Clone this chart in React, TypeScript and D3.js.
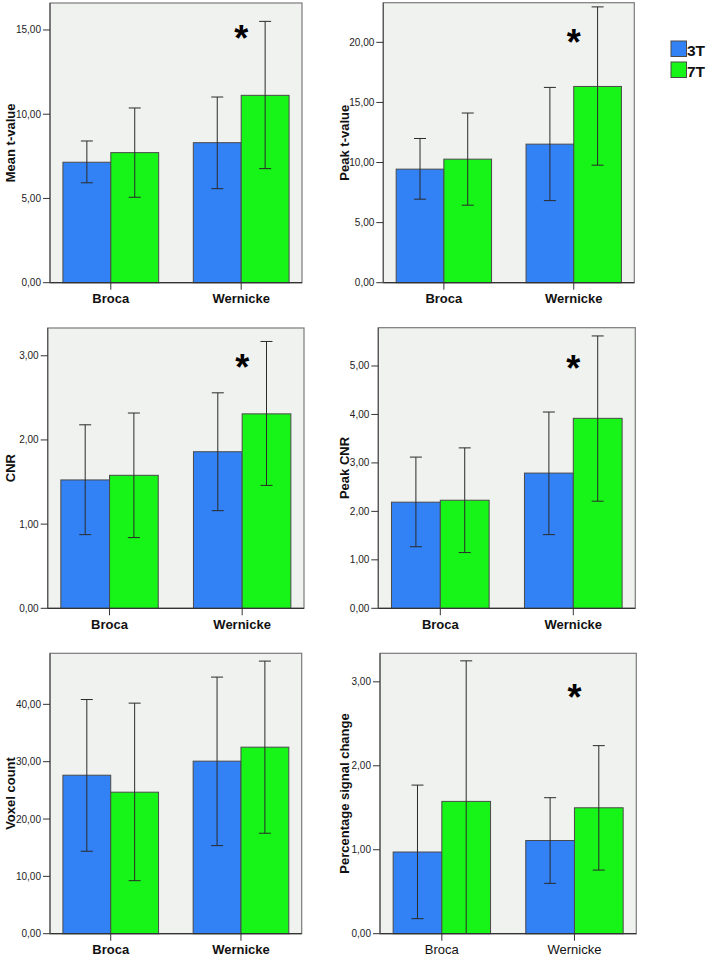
import React from "react";
import * as d3 from "d3";

const categories = ["Broca", "Wernicke"];
const series = ["3T", "7T"];
const seriesColors = ["#3282f6", "#17f417"];

// Mean t-value
const meanT_3T = [7.15, 8.31];
const meanT_7T = [7.72, 11.12];
const meanT_ci3T = [[5.93, 8.41], [5.58, 11.02]];
const meanT_ci7T = [[5.07, 10.37], [6.77, 15.51]];
const meanT_ticks = [0, 5, 10, 15];

// Peak t-value
const peakT_3T = [9.45, 11.53];
const peakT_7T = [10.28, 16.33];
const peakT_ci3T = [[6.95, 12.0], [6.83, 16.25]];
const peakT_ci7T = [[6.45, 14.12], [9.78, 22.95]];
const peakT_ticks = [0, 5, 10, 15, 20];

// CNR
const cnr_3T = [1.525, 1.86];
const cnr_7T = [1.58, 2.31];
const cnr_ci3T = [[0.875, 2.18], [1.16, 2.56]];
const cnr_ci7T = [[0.84, 2.32], [1.46, 3.17]];
const cnr_ticks = [0, 1, 2, 3];

// Peak CNR
const peakCnr_3T = [2.19, 2.79];
const peakCnr_7T = [2.23, 3.92];
const peakCnr_ci3T = [[1.27, 3.12], [1.52, 4.05]];
const peakCnr_ci7T = [[1.15, 3.31], [2.21, 5.62]];
const peakCnr_ticks = [0, 1, 2, 3, 4, 5];

// Voxel count
const voxel_3T = [27.64, 30.09];
const voxel_7T = [24.68, 32.53];
const voxel_ci3T = [[14.38, 40.84], [15.36, 44.75]];
const voxel_ci7T = [[9.25, 40.21], [17.52, 47.54]];
const voxel_ticks = [0, 10, 20, 30, 40];

// Percentage signal change
const psc_3T = [0.973, 1.11];
const psc_7T = [1.576, 1.5];
const psc_ci3T = [[0.179, 1.77], [0.6, 1.62]];
const psc_ci7T = [[-0.1, 3.25], [0.758, 2.24]];
const psc_ticks = [0, 1, 2, 3];

type Panel = {
  label: string;
  v3: number[];
  v7: number[];
  c3: number[][];
  c7: number[][];
  ticks: number[];
  max: number;
  box: [number, number, number, number]; // left, top, right, bottom
  star: boolean;
  starValue?: number;
  boldX: boolean;
  labelX: number;
};

const panels: Panel[] = [
  { label: "Mean t-value", v3: meanT_3T, v7: meanT_7T, c3: meanT_ci3T, c7: meanT_ci7T, ticks: meanT_ticks, max: 16.6, box: [50, 3, 302, 282.7], star: true, starValue: 14.9, boldX: true, labelX: 10 },
  { label: "Peak t-value", v3: peakT_3T, v7: peakT_7T, c3: peakT_ci3T, c7: peakT_ci7T, ticks: peakT_ticks, max: 23.3, box: [383.3, 2.7, 634.3, 282.7], star: true, starValue: 20.6, boldX: true, labelX: 344 },
  { label: "CNR", v3: cnr_3T, v7: cnr_7T, c3: cnr_ci3T, c7: cnr_ci7T, ticks: cnr_ticks, max: 3.33, box: [47.7, 328, 304, 608.3], star: true, starValue: 2.95, boldX: true, labelX: 10 },
  { label: "Peak CNR", v3: peakCnr_3T, v7: peakCnr_7T, c3: peakCnr_ci3T, c7: peakCnr_ci7T, ticks: peakCnr_ticks, max: 5.79, box: [378.3, 327.7, 635.3, 608.3], star: true, starValue: 5.1, boldX: true, labelX: 344 },
  { label: "Voxel count", v3: voxel_3T, v7: voxel_7T, c3: voxel_ci3T, c7: voxel_ci7T, ticks: voxel_ticks, max: 48.9, box: [50, 653.3, 301.7, 933.7], star: false, boldX: true, labelX: 10 },
  { label: "Percentage signal change", v3: psc_3T, v7: psc_7T, c3: psc_ci3T, c7: psc_ci7T, ticks: psc_ticks, max: 3.34, box: [380, 653.3, 636.3, 933.7], star: true, starValue: 2.9, boldX: false, labelX: 344 },
];

const fmt = (v: number) => d3.format(".2f")(v).replace(".", ",");
const FONT = "Liberation Sans, Arial, sans-serif";

function PanelChart({ p, idx }: { p: Panel; idx: number }) {
  const [left, top, right, bottom] = p.box;
  const y = d3.scaleLinear().domain([0, p.max]).range([bottom, top]);
  const x0 = d3.scaleBand<string>().domain(categories).range([left, right]).paddingInner(0.2656).paddingOuter(0.0991);
  const x1 = d3.scaleBand<string>().domain(series).range([0, x0.bandwidth()]).padding(0);
  const clipId = `clip${idx}`;
  const vals = [p.v3, p.v7];
  const cis = [p.c3, p.c7];
  const cap = 6;
  return (
    <g>
      <defs>
        <clipPath id={clipId}>
          <rect x={left} y={top} width={right - left} height={bottom - top} />
        </clipPath>
      </defs>
      <rect x={left} y={top} width={right - left} height={bottom - top} fill="#f0f2f0" stroke="#7a7a7a" strokeWidth={1.2} />
      {categories.map((c, ci) =>
        series.map((s, si) => {
          const bx = (x0(c) as number) + (x1(s) as number);
          const v = vals[si][ci];
          return (
            <rect key={c + s} x={bx} y={y(v)} width={x1.bandwidth()} height={bottom - y(v)} fill={seriesColors[si]} stroke="#4a4a4a" strokeWidth={1} />
          );
        })
      )}
      <g clipPath={`url(#${clipId})`}>
        {categories.map((c, ci) =>
          series.map((s, si) => {
            const cx = (x0(c) as number) + (x1(s) as number) + x1.bandwidth() / 2;
            const [lo, hi] = cis[si][ci];
            return (
              <g key={c + s} stroke="#2a2a2a" strokeWidth={1}>
                <line x1={cx} x2={cx} y1={y(lo)} y2={y(hi)} />
                <line x1={cx - cap} x2={cx + cap} y1={y(hi)} y2={y(hi)} />
                {lo > 0 && <line x1={cx - cap} x2={cx + cap} y1={y(lo)} y2={y(lo)} />}
              </g>
            );
          })
        )}
      </g>
      <line x1={left} x2={right} y1={bottom} y2={bottom} stroke="#333" strokeWidth={1.2} />
      <line x1={left} x2={left} y1={top} y2={bottom} stroke="#555" strokeWidth={1.2} />
      {p.ticks.map((t) => (
        <g key={t}>
          <line x1={left - 7} x2={left} y1={y(t)} y2={y(t)} stroke="#333" strokeWidth={1} />
          <text x={left - 9} y={y(t)} dy="0.35em" textAnchor="end" fontSize={10} fontFamily={FONT} fill="#222">
            {fmt(t)}
          </text>
        </g>
      ))}
      {categories.map((c) => {
        const cx = (x0(c) as number) + x0.bandwidth() / 2;
        return (
          <g key={c}>
            <line x1={cx} x2={cx} y1={bottom} y2={bottom + 7} stroke="#333" strokeWidth={1} />
            <text x={cx} y={bottom + 20.5} textAnchor="middle" fontSize={13} fontWeight={p.boldX ? "bold" : "normal"} fontFamily={FONT} fill="#111">
              {c}
            </text>
          </g>
        );
      })}
      <text
        transform={`translate(${p.labelX + 4.5},${(top + bottom) / 2}) rotate(-90)`}
        textAnchor="middle"
        fontSize={13}
        fontWeight="bold"
        fontFamily={FONT}
        fill="#111"
      >
        {p.label}
      </text>
      {p.star && p.starValue !== undefined && (
        <text
          x={(x0("Wernicke") as number) + x0.bandwidth() / 2}
          y={y(p.starValue)}
          dy="0.55em"
          textAnchor="middle"
          fontSize={36}
          fontWeight="bold"
          fontFamily={FONT}
          fill="#000"
        >
          *
        </text>
      )}
    </g>
  );
}

export default function App() {
  return (
    <svg width={711} height={956} style={{ position: "absolute", left: 0, top: 0, background: "#fff" }}>
      <rect x={0} y={0} width={711} height={956} fill="#fff" />
      {panels.map((p, i) => (
        <PanelChart key={i} p={p} idx={i} />
      ))}
      {series.map((s, i) => (
        <g key={s}>
          <rect x={671} y={41 + i * 21} width={15.5} height={15.5} fill={seriesColors[i]} stroke="#4a4a4a" strokeWidth={1} />
          <text x={687} y={56 + i * 21} fontSize={15.5} fontWeight="bold" fontFamily={FONT} fill="#111">
            {s}
          </text>
        </g>
      ))}
    </svg>
  );
}
